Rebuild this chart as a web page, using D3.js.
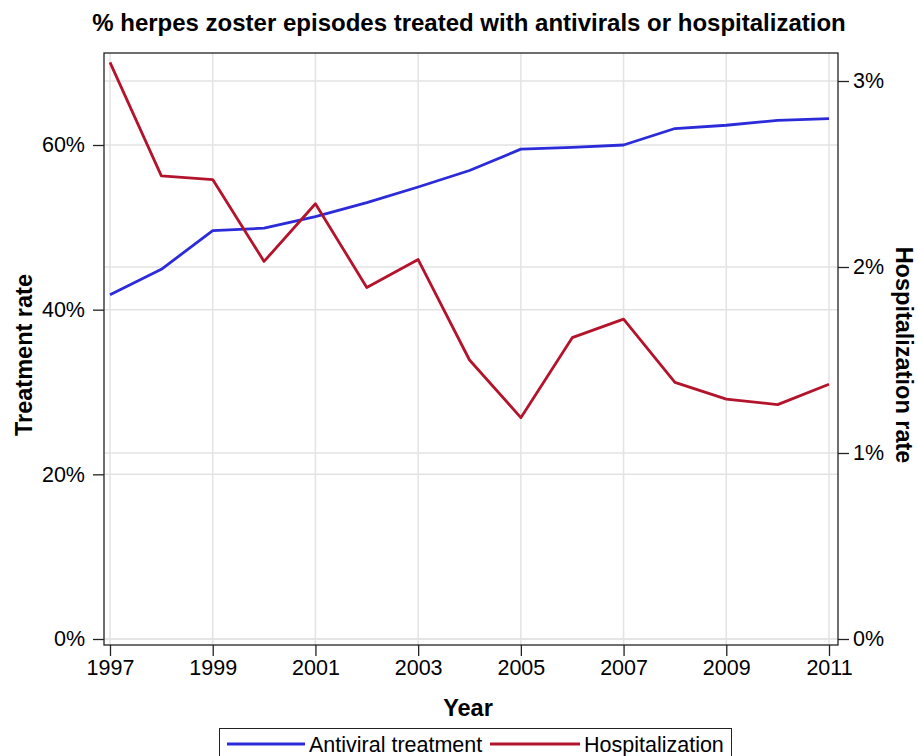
<!DOCTYPE html>
<html><head><meta charset="utf-8">
<script src="https://cdn.jsdelivr.net/npm/d3@7"></script>
<style>body{margin:0;background:#fff}svg{display:block}text{font-family:"Liberation Sans",Arial,sans-serif}</style>
</head><body><svg id="c" width="918" height="756"></svg>
<script>
const years = [1997,1998,1999,2000,2001,2002,2003,2004,2005,2006,2007,2008,2009,2010,2011];
const antiviral = [41.8,44.9,49.6,49.9,51.3,53.0,54.9,56.9,59.5,59.7,60.0,62.0,62.4,63.0,63.2];
const hospitalization = [3.10,2.49,2.47,2.03,2.34,1.89,2.04,1.50,1.19,1.62,1.72,1.38,1.29,1.26,1.37];
const xTicks = [1997,1999,2001,2003,2005,2007,2009,2011];
const leftTicks = [0,20,40,60];
const rightTicks = [0,1,2,3];
const seriesNames = ["Antiviral treatment","Hospitalization"];
const colors = ["#2b2bd9","#b3142c"];

const svg = d3.select("#c");
const frame = {l:104, r:838, t:53, b:645};
const x = d3.scaleLinear().domain([1997,2011]).range([110,829]);
const yL = d3.scaleLinear().domain([0,60]).range([639,145]);
const yR = d3.scaleLinear().domain([0,3]).range([639,81]);

// gridlines
const g = svg.append("g");
xTicks.forEach(t=>g.append("line").attr("x1",x(t)).attr("x2",x(t)).attr("y1",frame.t).attr("y2",frame.b).attr("stroke","#e3e3e3").attr("stroke-width",1.5));
leftTicks.forEach(t=>g.append("line").attr("x1",frame.l).attr("x2",frame.r).attr("y1",yL(t)).attr("y2",yL(t)).attr("stroke","#e3e3e3").attr("stroke-width",1.5));
rightTicks.forEach(t=>g.append("line").attr("x1",frame.l).attr("x2",frame.r).attr("y1",yR(t)).attr("y2",yR(t)).attr("stroke","#e3e3e3").attr("stroke-width",1.5));

// lines
const lineL = d3.line().x((d,i)=>x(years[i])).y(d=>yL(d));
const lineR = d3.line().x((d,i)=>x(years[i])).y(d=>yR(d));
svg.append("path").attr("d",lineL(antiviral)).attr("fill","none").attr("stroke",colors[0]).attr("stroke-width",2.8).attr("stroke-linejoin","round");
svg.append("path").attr("d",lineR(hospitalization)).attr("fill","none").attr("stroke",colors[1]).attr("stroke-width",2.8).attr("stroke-linejoin","round");

// frame
svg.append("rect").attr("x",frame.l).attr("y",frame.t).attr("width",frame.r-frame.l).attr("height",frame.b-frame.t).attr("fill","none").attr("stroke","#222").attr("stroke-width",1.3);

// axes
const fmtPct = d=>d+"%";
const axB = svg.append("g").attr("transform",`translate(0,${frame.b})`).call(d3.axisBottom(x).tickValues(xTicks).tickFormat(d3.format("d")).tickSize(11).tickPadding(4));
const axL = svg.append("g").attr("transform",`translate(${frame.l},0)`).call(d3.axisLeft(yL).tickValues(leftTicks).tickFormat(fmtPct).tickSize(11).tickPadding(8));
const axR = svg.append("g").attr("transform",`translate(${frame.r},0)`).call(d3.axisRight(yR).tickValues(rightTicks).tickFormat(fmtPct).tickSize(11).tickPadding(4));
[axB,axL,axR].forEach(a=>{
  a.select(".domain").remove();
  a.selectAll(".tick line").attr("stroke","#222").attr("stroke-width",1.3);
  a.selectAll(".tick text").attr("fill","#000").style("font-size","21.5px").style("font-family",'"Liberation Sans",Arial,sans-serif');
});

// titles
svg.append("text").attr("x",469).attr("y",31).attr("text-anchor","middle").style("font-size","24px").style("font-weight","bold").text("% herpes zoster episodes treated with antivirals or hospitalization");
svg.append("text").attr("x",468).attr("y",716).attr("text-anchor","middle").style("font-size","23.5px").style("font-weight","bold").text("Year");
svg.append("text").attr("transform","translate(32,355) rotate(-90)").attr("text-anchor","middle").style("font-size","23.5px").style("font-weight","bold").text("Treatment rate");
svg.append("text").attr("transform","translate(896,355) rotate(90)").attr("text-anchor","middle").style("font-size","23.5px").style("font-weight","bold").text("Hospitalization rate");

// legend
const leg = svg.append("g");
leg.append("rect").attr("x",219.5).attr("y",728.5).attr("width",512).attr("height",40).attr("fill","#fff").attr("stroke","#222").attr("stroke-width",1);
const items = [{x0:227,x1:305,tx:309},{x0:490,x1:580,tx:584}];
items.forEach((it,i)=>{
  leg.append("line").attr("x1",it.x0).attr("x2",it.x1).attr("y1",744).attr("y2",744).attr("stroke",colors[i]).attr("stroke-width",2.8);
  leg.append("text").attr("x",it.tx).attr("y",752).style("font-size","21.5px").text(seriesNames[i]);
});
</script></body></html>
